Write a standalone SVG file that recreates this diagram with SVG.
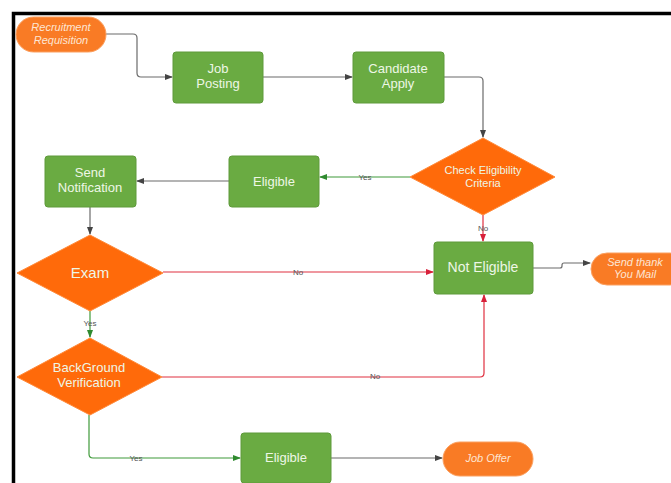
<svg xmlns="http://www.w3.org/2000/svg" width="671" height="483" viewBox="0 0 671 483">
<defs>
<style>
.box{fill:#6aab42;stroke:#5e9a3a;stroke-width:1}
.dia{fill:#ff6a0a;stroke:#ff8a3a;stroke-width:1}
.pill{fill:#f97b25;stroke:#fba060;stroke-width:1}
.t{font-family:"Liberation Sans",Arial,sans-serif;font-size:13px;fill:#eef7e6;text-anchor:middle}
.ti{font-family:"Liberation Sans",Arial,sans-serif;font-size:11px;font-style:italic;fill:#fde6d4;text-anchor:middle}
.lbl{font-family:"Liberation Sans",Arial,sans-serif;font-size:8px;fill:#555;text-anchor:middle}
.c{fill:none;stroke-width:1.2}
.gray{stroke:#6b6b6b}
.grn{stroke:#3f9a3a}
.red{stroke:#e03040}
</style>
<marker id="ag" markerWidth="8" markerHeight="8" refX="7" refY="4" orient="auto" markerUnits="userSpaceOnUse"><path d="M0,1 L8,4 L0,7 z" fill="#444"/></marker>
<marker id="agr" markerWidth="8" markerHeight="8" refX="7" refY="4" orient="auto" markerUnits="userSpaceOnUse"><path d="M0,1 L8,4 L0,7 z" fill="#2f8a2f"/></marker>
<marker id="ar" markerWidth="8" markerHeight="8" refX="7" refY="4" orient="auto" markerUnits="userSpaceOnUse"><path d="M0,1 L8,4 L0,7 z" fill="#d8203a"/></marker>
</defs>
<rect width="671" height="483" fill="#ffffff"/>
<path d="M13.5,483 L13.5,13.5 L671,13.5" fill="none" stroke="#000" stroke-width="3.5"/>

<g id="connectors">
<path class="c gray" d="M105,34 L133,34 Q137,34 137,38 L137,73 Q137,77 141,77 L172,77" marker-end="url(#ag)"/>
<path class="c gray" d="M263,77 L352,77" marker-end="url(#ag)"/>
<path class="c gray" d="M444,77 L479,77 Q483,77 483,81 L483,137" marker-end="url(#ag)"/>
<path class="c grn" d="M410,177 L320,177" marker-end="url(#agr)"/>
<text class="lbl" x="365" y="180">Yes</text>
<path class="c red" d="M483,215 L483,241" marker-end="url(#ar)"/>
<text class="lbl" x="483" y="231">No</text>
<path class="c gray" d="M229,181 L137,181" marker-end="url(#ag)"/>
<path class="c gray" d="M90,207 L90,234" marker-end="url(#ag)"/>
<path class="c red" d="M163,272 L433,272" marker-end="url(#ar)"/>
<text class="lbl" x="298" y="275">No</text>
<path class="c grn" d="M90,311 L90,337" marker-end="url(#agr)"/>
<text class="lbl" x="90" y="326">Yes</text>
<path class="c red" d="M162,377 L480,377 Q484,377 484,373 L484,295" marker-end="url(#ar)"/>
<text class="lbl" x="375" y="379">No</text>
<path class="c grn" d="M89,415 L89,454 Q89,458 93,458 L240,458" marker-end="url(#agr)"/>
<text class="lbl" x="136" y="461">Yes</text>
<path class="c gray" d="M331,458 L442,458" marker-end="url(#ag)"/>
<path class="c gray" d="M533,268 L560,268 Q562,268 562,266 L562,265 Q562,263 564,263 L590,263" marker-end="url(#ag)"/>
</g>

<g id="recruitment-requisition">
<rect class="pill" x="16" y="17" width="90" height="35" rx="17.5"/>
<text class="ti" x="61" y="31">Recruitment</text>
<text class="ti" x="61" y="44">Requisition</text>
</g>
<g id="job-posting">
<rect class="box" x="173" y="52" width="90" height="51" rx="3"/>
<text class="t" x="218" y="73">Job</text>
<text class="t" x="218" y="88">Posting</text>
</g>
<g id="candidate-apply">
<rect class="box" x="353" y="52" width="91" height="51" rx="3"/>
<text class="t" x="398" y="73">Candidate</text>
<text class="t" x="398" y="88">Apply</text>
</g>
<g id="check-eligibility">
<polygon class="dia" points="483,138 555,177 483,215 410,177"/>
<text class="t" x="483" y="174" style="font-size:11px">Check Eligibility</text>
<text class="t" x="483" y="187" style="font-size:11px">Criteria</text>
</g>
<g id="eligible-top">
<rect class="box" x="229" y="156" width="90" height="51" rx="3"/>
<text class="t" x="274" y="186">Eligible</text>
</g>
<g id="send-notification">
<rect class="box" x="45" y="156" width="91" height="51" rx="3"/>
<text class="t" x="90" y="177">Send</text>
<text class="t" x="90" y="192">Notification</text>
</g>
<g id="exam">
<polygon class="dia" points="90,235 163,273 90,311 17,273"/>
<text class="t" x="90" y="278" style="font-size:15px">Exam</text>
</g>
<g id="background-verification">
<polygon class="dia" points="90,338 162,377 90,415 17,377"/>
<text class="t" x="89" y="372">BackGround</text>
<text class="t" x="89" y="387">Verification</text>
</g>
<g id="not-eligible">
<rect class="box" x="434" y="242" width="99" height="52" rx="3"/>
<text class="t" x="483" y="272" style="font-size:14px">Not Eligible</text>
</g>
<g id="send-thank-you-mail">
<rect class="pill" x="591" y="253" width="95" height="32" rx="16"/>
<text class="ti" x="635" y="266">Send thank</text>
<text class="ti" x="635" y="278">You Mail</text>
</g>
<g id="eligible-bottom">
<rect class="box" x="241" y="433" width="90" height="50" rx="3"/>
<text class="t" x="286" y="462">Eligible</text>
</g>
<g id="job-offer">
<rect class="pill" x="443" y="442" width="90" height="34" rx="17"/>
<text class="ti" x="488" y="462">Job Offer</text>
</g>
</svg>
